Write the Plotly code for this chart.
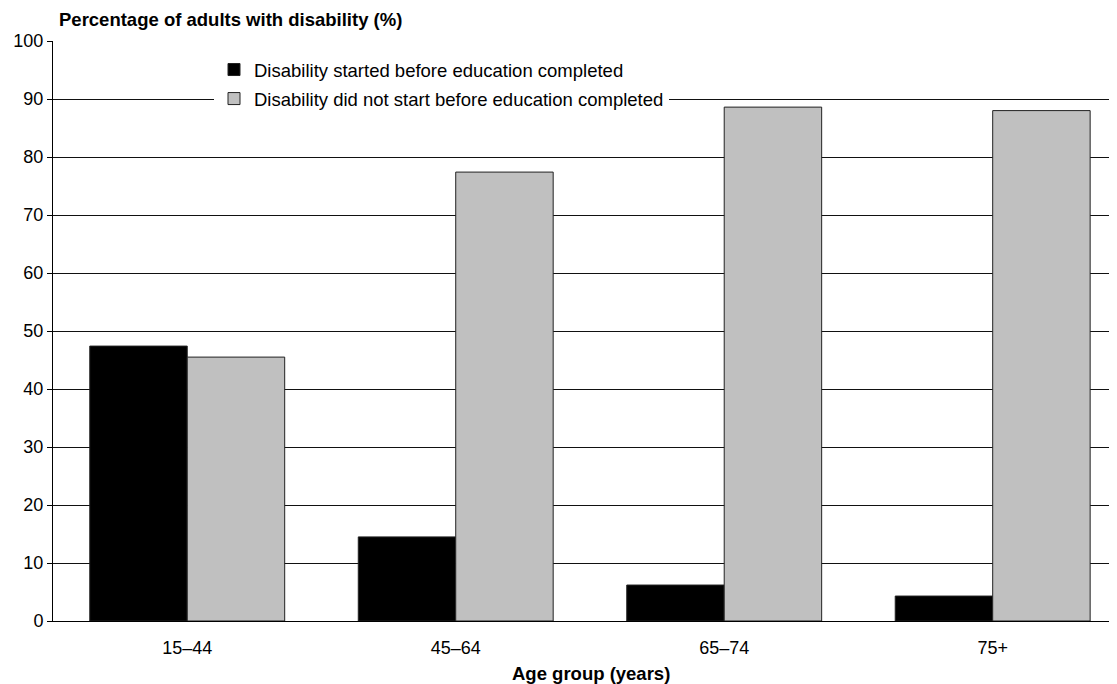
import plotly.graph_objects as go

categories = ["15–44", "45–64", "65–74", "75+"]
started_before = [47.4, 14.5, 6.2, 4.3]
not_started_before = [45.5, 77.4, 88.6, 88.0]
y_ticks = list(range(0, 101, 10))

FONT = "Liberation Sans, Arial, sans-serif"
OFF = 8  # default page body margin of the html page
W, H = 1117 - OFF, 684 - OFF
# target plot box in page pixels: left 53, top 41, bottom 621, right 1117
ML, MR, MT, MB = 53 - OFF, 0, 41 - OFF, H - (621 - OFF)
PW = W - ML - MR
PH = H - MT - MB


def px_x(page_x):
    return (page_x - OFF - ML) / PW


def px_y(page_y):
    return 1 - (page_y - OFF - MT) / PH


fig = go.Figure()
fig.add_trace(go.Bar(
    x=categories, y=started_before,
    name="Disability started before education completed",
    marker=dict(color="#000000", line=dict(color="#222222", width=1)),
    legendgroup="a",
))
fig.add_trace(go.Bar(
    x=categories, y=not_started_before,
    name="Disability did not start before education completed",
    marker=dict(color="#c0c0c0", line=dict(color="#222222", width=1)),
    legendgroup="b",
))

fig.update_layout(
    width=W, height=H,
    margin=dict(l=ML, r=MR, t=MT, b=MB, pad=0),
    paper_bgcolor="white", plot_bgcolor="white",
    font=dict(family=FONT, size=18, color="#000000"),
    barmode="group", bargap=0.274, bargroupgap=0,
    showlegend=True,
    legend=dict(
        x=px_x(214), y=px_y(51), xanchor="left", yanchor="top",
        bgcolor="white", borderwidth=0,
        font=dict(family=FONT, size=18.5, color="#000000"),
        tracegroupgap=2, traceorder="grouped",
        itemwidth=30,
    ),
    xaxis=dict(
        range=[-0.5, 3.463],
        showline=True, linecolor="#000000", linewidth=1,
        showgrid=False, ticks="",
        tickfont=dict(family=FONT, size=18),
        ticklabelstandoff=10,
    ),
    yaxis=dict(
        range=[0, 100], tickvals=y_ticks,
        showline=True, linecolor="#000000", linewidth=1,
        showgrid=True, gridcolor="#111111", gridwidth=1,
        ticks="outside", ticklen=5, tickcolor="#000000",
        tickfont=dict(family=FONT, size=18),
        zeroline=False,
    ),
    annotations=[
        dict(
            text="<b>Percentage of adults with disability (%)</b>",
            xref="paper", yref="paper", x=px_x(57), y=px_y(20),
            xanchor="left", yanchor="middle",
            showarrow=False, font=dict(family=FONT, size=18.5),
        ),
        dict(
            text="<b>Age group (years)</b>",
            xref="paper", yref="paper", x=px_x(591), y=px_y(673),
            xanchor="center", yanchor="middle",
            showarrow=False, font=dict(family=FONT, size=18.5),
        ),
    ],
)

fig.write_html("out.html")
